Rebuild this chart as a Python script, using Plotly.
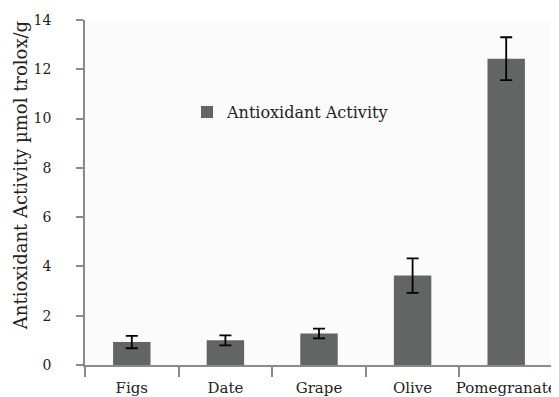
import plotly.graph_objects as go

categories = ["Figs", "Date", "Grape", "Olive", "Pomegranate"]
values = [0.93, 1.0, 1.28, 3.63, 12.43]
errors = [0.25, 0.2, 0.2, 0.7, 0.87]
y_ticks = [0, 2, 4, 6, 8, 10, 12, 14]

FONT = "DejaVu Serif"

fig = go.Figure()
fig.add_trace(go.Bar(
    x=categories, y=values, name="Antioxidant Activity",
    marker=dict(color="#636564", line=dict(width=0)),
    error_y=dict(type="data", array=errors, visible=True, color="black",
                 thickness=1.8, width=6),
))

fig.update_layout(
    width=559, height=397,
    margin=dict(l=77, r=14, t=12, b=40),
    paper_bgcolor="white", plot_bgcolor="#fbfbfb",
    bargap=0.6,
    showlegend=True,
    legend=dict(x=0.218, y=0.733, xanchor="left", yanchor="middle",
                bgcolor="rgba(0,0,0,0)", font=dict(family=FONT, size=16, color="#222"),
                itemwidth=30),
    font=dict(family=FONT, size=14, color="#222"),
    xaxis=dict(showline=True, linecolor="#8a8a8a", linewidth=1.5, automargin=False,
               ticks="outside", tickson="boundaries", ticklen=10, tickcolor="#8a8a8a",
               tickwidth=1.5, tickangle=0, ticklabelstandoff=8,
               tickfont=dict(family=FONT, size=15), showgrid=False),
    yaxis=dict(range=[0, 14], tickvals=y_ticks, showline=True, linecolor="#8a8a8a",
               linewidth=1.5, ticks="outside", ticklen=7, tickcolor="#8a8a8a", tickwidth=1.5,
               showgrid=False, zeroline=False, ticklabelstandoff=22, automargin=False,
               tickfont=dict(family=FONT, size=14)),
    annotations=[dict(text="Antioxidant Activity µmol trolox/g", textangle=-90,
                      xref="paper", yref="paper", x=-0.139, y=0.55,
                      xanchor="center", yanchor="middle", showarrow=False,
                      font=dict(family=FONT, size=18, color="#222"))],
)

fig.write_html("out.html")
